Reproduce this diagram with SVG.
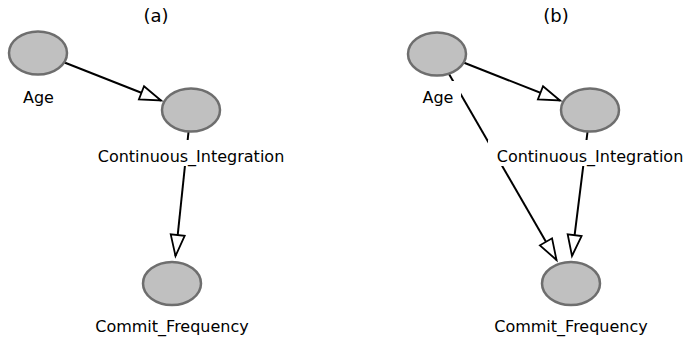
<svg xmlns="http://www.w3.org/2000/svg" width="684" height="345" viewBox="0 0 684 345">
<style>
.node ellipse{fill:#c0c0c0;stroke:#6e6e6e;stroke-width:2.5}
.lbl{font-family:"DejaVu Sans",Verdana,sans-serif;font-size:16px;fill:#000;text-anchor:middle}
.ttl{font-family:"DejaVu Sans",Verdana,sans-serif;font-size:18px;fill:#000;text-anchor:middle}
.bg{fill:#fff}
.edge{stroke:#000;stroke-width:2;fill:none;marker-end:url(#arr)}
</style>
<defs>
<marker id="arr" markerUnits="userSpaceOnUse" markerWidth="26" markerHeight="18" refX="22" refY="8" orient="auto" overflow="visible">
<path d="M1,1 L22,8 L1,15 Z" fill="#fff" stroke="#000" stroke-width="1.8" stroke-linejoin="miter"/>
</marker>
</defs>
<rect width="684" height="345" fill="#fff"/>
<text class="ttl" x="156" y="22">(a)</text>
<text class="ttl" x="556" y="22">(b)</text>
<g id="connectors">
<line class="edge" x1="64.5" y1="62.5" x2="161" y2="100.5"/>
<line class="edge" x1="188.5" y1="132" x2="175.5" y2="256"/>
<line class="edge" x1="463.5" y1="62.5" x2="560" y2="100.5"/>
<line class="edge" x1="449" y1="74" x2="556.5" y2="260"/>
<line class="edge" x1="587.5" y1="132" x2="572" y2="256"/>
</g>
<g id="a_age" class="node">
<ellipse cx="38" cy="53" rx="29" ry="21.5"/>
<rect class="bg" x="15" y="81" width="46" height="26"/>
<text class="lbl" x="38.5" y="102.5">Age</text>
</g>
<g id="a_ci" class="node">
<ellipse cx="191" cy="110" rx="29" ry="21.5"/>
<rect class="bg" x="89" y="140" width="204" height="26"/>
<text class="lbl" x="191" y="161.5">Continuous_Integration</text>
</g>
<g id="a_cf" class="node">
<ellipse cx="172" cy="283.5" rx="29" ry="21.5"/>
<rect class="bg" x="87" y="310" width="170" height="26"/>
<text class="lbl" x="172" y="331.5">Commit_Frequency</text>
</g>
<g id="b_age" class="node">
<ellipse cx="437" cy="54" rx="29" ry="21.5"/>
<rect class="bg" x="415" y="81" width="46" height="26"/>
<text class="lbl" x="438" y="102.5">Age</text>
</g>
<g id="b_ci" class="node">
<ellipse cx="590" cy="110" rx="29" ry="21.5"/>
<rect class="bg" x="488" y="140" width="204" height="26"/>
<text class="lbl" x="590" y="161.5">Continuous_Integration</text>
</g>
<g id="b_cf" class="node">
<ellipse cx="571" cy="283.5" rx="29" ry="21.5"/>
<rect class="bg" x="486" y="310" width="170" height="26"/>
<text class="lbl" x="571" y="331.5">Commit_Frequency</text>
</g>
</svg>
